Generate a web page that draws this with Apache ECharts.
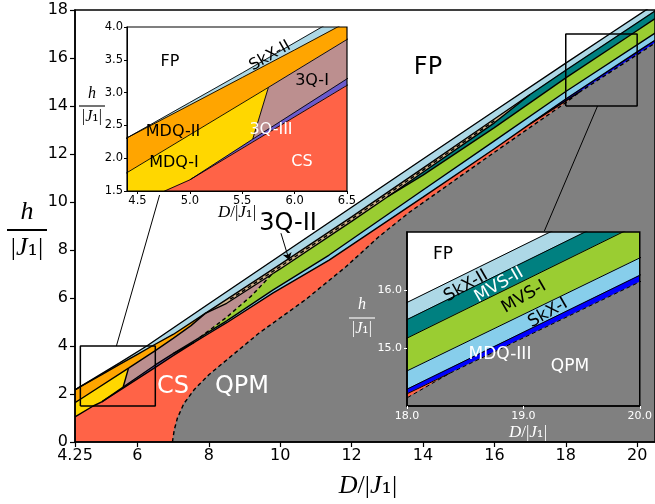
<!DOCTYPE html>
<html><head><meta charset="utf-8">
<script src="https://cdn.jsdelivr.net/npm/echarts@6/dist/echarts.min.js"></script>
<style>html,body{margin:0;padding:0;background:#fff}#c{width:655px;height:504px}</style>
</head><body><div id="c"></div>
<script>
// ---------- tick values ----------
const mainXTicks = [4.25, 6, 8, 10, 12, 14, 16, 18, 20];
const inset1XTicks = [4.5, 5.0, 5.5, 6.0, 6.5];
const inset2YTicks = [15, 16];

// ---------- phase boundaries [D/|J1|, h/|J1|] ----------
const bFP = [[4.25,2.17],[4.4,2.31],[5.0,2.85],[5.5,3.30],[6.26,4.00],[7.0,4.75],[8.0,5.76],[10.0,7.77],[12.0,9.78],[14.0,11.79],[16.0,13.79],[18.0,15.785],[19.23,17.0],[20.5,18.25]];
const bSkX2a = [[4.25,2.17],[4.4,2.31],[5.0,2.81],[5.5,3.23],[6.0,3.65],[6.41,4.0],[7.0,4.48],[7.9,5.36]];
const bSkX2b = [[7.9,5.36],[8.5,5.94],[10.0,7.40],[12.0,9.38],[14.0,11.41],[16.0,13.46],[17.0,14.48]];
const bSkX2c = [[17.0,14.48],[18.0,15.49],[19.53,17.0],[20.5,17.96]];
const bMDQ2a = [[4.25,1.64],[4.4,1.78],[5.75,3.08]];
const bMDQ2b = [[5.75,3.08],[6.5,3.81],[7.0,4.32],[7.5,4.85],[7.9,5.36]];
const bYel3Q = [[5.6,2.29],[5.75,3.08]];
const b3Q3a = [[5.0,1.67],[5.6,2.29]];
const b3Q3b = [[5.6,2.29],[6.5,3.21],[7.0,3.68]];
const b3Q3c = [[7.0,3.68],[7.6,4.16]];
const bCSa = [[4.25,1.05],[4.76,1.5],[5.0,1.67]];
const bCSb = [[5.0,1.67],[6.5,3.11],[7.0,3.6],[7.6,4.16]];
const bCSc = [[7.6,4.16],[8.0,4.52],[8.5,4.97],[9.79,6.2],[11.37,7.58],[14.0,10.2],[16.0,12.22],[17.0,13.255]];
const bCSd = [[17.0,13.255],[18.0,14.29],[20.0,16.254],[20.5,16.74]];
const bSkX1top = [[7.0,3.68],[7.75,4.36]];
const b3Q1MVS = [[7.75,4.36],[8.5,5.2],[9.2,6.1],[9.8,7.04]];
const b3Q2a = [[7.9,5.36],[8.5,5.78],[9.8,7.02]];
const b3Q2b = [[9.8,7.02],[10.0,7.21],[12.0,9.19],[13.0,10.21]];
const b3Q2c = [[13.0,10.21],[14.0,11.24],[16.0,13.30],[17.0,14.48]];
const bTanDash = [[8.6,5.95],[10.0,7.31],[12.0,9.29],[14.0,11.33],[16.0,13.38]];
const bMVS2 = [[13.0,10.21],[14.0,11.12],[16.0,13.1],[18.0,15.17],[19.855,17.0],[20.5,17.64]];
const bMVS1 = [[7.75,4.36],[8.5,5.05],[9.79,6.33],[11.37,7.79],[14.0,10.5],[16.0,12.55],[18.0,14.605],[20.5,17.04]];
const bMDQ3a = [[17.0,13.255],[18.0,14.21],[18.37,14.567]];
const bMDQ3b = [[18.37,14.567],[20.0,16.14],[20.5,16.62]];
const bQPM = [[6.98,0],[7.03,0.5],[7.12,1.0],[7.3,1.6],[7.6,2.2],[8.0,2.8],[8.5,3.42],[9.4,4.53],[10.7,5.92],[11.84,7.3],[12.76,8.55],[13.6,9.55],[15.56,11.61],[16.49,12.58],[18.0,14.14],[18.37,14.567]];

// inset boxes and connectors
const box1 = [[4.4,1.5],[6.5,1.5],[6.5,4.0],[4.4,4.0],[4.4,1.5]];
const box2 = [[18,14],[20,14],[20,17],[18,17],[18,14]];
const conn1 = [[5.41,4.0],[6.62,10.29]];
const conn2 = [[18.89,14.0],[17.40,8.79]];
const arrow3Q2 = [[10.02,8.70],[10.25,7.58]];

// ---------- regions ----------
const rev = a => a.slice().reverse();
const cat = (...arrs) => [].concat(...arrs);
const regions = [
  {name:'FP', color:'#ffffff', poly: cat(bFP, [[20.5,30],[4.25,30]])},
  {name:'SkX-II', color:'#add8e6', poly: cat(bFP, rev(cat(bSkX2a,bSkX2b,bSkX2c)))},
  {name:'MDQ-II', color:'#ffa500', poly: cat(bSkX2a, rev(cat(bMDQ2a,bMDQ2b)))},
  {name:'MDQ-I', color:'#ffd700', poly: cat(bMDQ2a, rev(bYel3Q), rev(b3Q3a), rev(bCSa))},
  {name:'3Q-I', color:'#bc8f8f', poly: cat(bYel3Q, bMDQ2b, b3Q2a, rev(b3Q1MVS), rev(bSkX1top), rev(b3Q3b))},
  {name:'3Q-III', color:'#6a5acd', poly: cat(b3Q3a, b3Q3b, b3Q3c, rev(bCSb))},
  {name:'3Q-II', color:'#d2b48c', poly: cat(bSkX2b, rev(cat(b3Q2a,b3Q2b,b3Q2c)))},
  {name:'MVS-II', color:'#008080', poly: cat(b3Q2c, bSkX2c, rev(bMVS2))},
  {name:'MVS-I', color:'#9acd32', poly: cat(b3Q1MVS, b3Q2b, bMVS2, rev(bMVS1))},
  {name:'SkX-I', color:'#87ceeb', poly: cat(bSkX1top, bMVS1, rev(cat(bCSc,bCSd)), rev(b3Q3c))},
  {name:'MDQ-III', color:'#0000ff', poly: cat(bCSd, rev(cat(bMDQ3a,bMDQ3b)))},
  {name:'CS', color:'#ff6347', poly: cat([[4.25,0]], bCSa, bCSb, bCSc, bMDQ3a, rev(bQPM))},
  {name:'QPM', color:'#808080', poly: cat(bQPM, bMDQ3b, [[20.5,0]])}
];
const solidLines = [bFP,bSkX2a,bSkX2b,bSkX2c,bMDQ2a,bMDQ2b,bYel3Q,b3Q3a,b3Q3b,b3Q3c,bCSa,bCSb,bCSc,bCSd,bSkX1top,b3Q2a,b3Q2b,b3Q2c,bMVS2,bMVS1,bMDQ3a];
const dashedLines = [bQPM, b3Q1MVS, bMDQ3b, bTanDash];

function polySeries(r, gi, z){
  return {type:'custom', name:r.name, coordinateSystem:'cartesian2d', xAxisIndex:gi, yAxisIndex:gi,
    clip:true, z:z, silent:true, animation:false, data:[r.poly[0]],
    renderItem:(params, api) => ({type:'polygon', shape:{points:r.poly.map(p => api.coord(p))},
      style:{fill:r.color, stroke:r.color, lineWidth:0.6}})};
}
function lineSeries(pts, gi, w, dashed, z, color){
  return {type:'line', xAxisIndex:gi, yAxisIndex:gi, data:pts, showSymbol:false, symbol:'none',
    clip:true, silent:true, animation:false, z:z,
    lineStyle:{color:color||'#000', width:w, type: dashed ? [4,3] : 'solid'}};
}
const series = [];
[[0,1,2,1.4],[1,6,6.5,0.9],[2,6,6.5,1.0]].forEach(([gi,zp,zl,w]) => {
  regions.forEach(r => series.push(polySeries(r, gi, zp)));
  solidLines.forEach(l => series.push(lineSeries(l, gi, w, false, zl)));
  dashedLines.forEach(l => series.push(lineSeries(l, gi, w, true, zl)));
});
series.push(lineSeries(box1, 0, 1.5, false, 2.5));
series.push(lineSeries(box2, 0, 1.5, false, 2.5));
series.push(lineSeries(conn1, 0, 1.0, false, 2.5));
series.push(lineSeries(conn2, 0, 1.0, false, 2.5));
series.push({type:'lines', coordinateSystem:'cartesian2d', xAxisIndex:0, yAxisIndex:0, z:3, silent:true, animation:false,
  symbol:['none','arrow'], symbolSize:7, lineStyle:{color:'#000', width:1, opacity:1},
  data:[{coords: arrow3Q2}]});

// ---------- axes ----------
const F = 'DejaVu Sans';
function fmt1(v){ return Number(v).toFixed(1); }
const xAxis = [
  {type:'value', gridIndex:0, min:4.25, max:20.5, z:3,
   axisLine:{show:true, onZero:false, lineStyle:{color:'#000', width:1.5}},
   axisTick:{show:true, length:5, customValues:mainXTicks, lineStyle:{color:'#000', width:1.2}},
   axisLabel:{customValues:mainXTicks, fontSize:16, color:'#000', fontFamily:F, margin:6},
   splitLine:{show:false}},
  {type:'value', gridIndex:1, min:4.4, max:6.5, z:7,
   axisLine:{show:true, onZero:false, lineStyle:{color:'#000', width:1}},
   axisTick:{show:true, length:3, customValues:inset1XTicks, lineStyle:{color:'#000'}},
   axisLabel:{customValues:inset1XTicks, formatter:fmt1, fontSize:11.5, color:'#000', fontFamily:F, margin:4},
   splitLine:{show:false}},
  {type:'value', gridIndex:2, min:18, max:20, interval:1, z:7,
   axisLine:{show:true, onZero:false, lineStyle:{color:'#000', width:1.5}},
   axisTick:{show:true, length:3, lineStyle:{color:'#fff'}},
   axisLabel:{formatter:fmt1, fontSize:11, color:'#fff', fontFamily:F, margin:5},
   splitLine:{show:false}}
];
const yAxis = [
  {type:'value', gridIndex:0, min:0, max:18, interval:2, z:3,
   axisLine:{show:true, onZero:false, lineStyle:{color:'#000', width:1.5}},
   axisTick:{show:true, length:5, lineStyle:{color:'#000', width:1.2}},
   axisLabel:{fontSize:16, color:'#000', fontFamily:F, margin:7},
   splitLine:{show:false}},
  {type:'value', gridIndex:1, min:1.5, max:4.0, interval:0.5, z:7,
   axisLine:{show:true, onZero:false, lineStyle:{color:'#000', width:1}},
   axisTick:{show:true, length:3, lineStyle:{color:'#000'}},
   axisLabel:{formatter:fmt1, fontSize:11.5, color:'#000', fontFamily:F, margin:4},
   splitLine:{show:false}},
  {type:'value', gridIndex:2, min:14, max:17, z:7,
   axisLine:{show:true, onZero:false, lineStyle:{color:'#000', width:1.5}},
   axisTick:{show:true, length:3, customValues:inset2YTicks, lineStyle:{color:'#fff'}},
   axisLabel:{customValues:inset2YTicks, formatter:fmt1, fontSize:11, color:'#fff', fontFamily:F, margin:5},
   splitLine:{show:false}}
];

// ---------- text ----------
function txt(t, x, y, size, color, rotDeg){
  return {type:'text', x:x, y:y, z:30, rotation:(rotDeg||0)*Math.PI/180,
    style:{text:t, fill:color, font: size + 'px "DejaVu Sans"', align:'center', verticalAlign:'middle',
      textAlign:'center', textVerticalAlign:'middle'}};
}
function mathDJ(x, y, size, color){
  const base = {fontFamily:'Liberation Serif', fontSize:size, fill:color, color:color};
  return {type:'text', x:x, y:y, z:30,
    style:{text:'{i|D}{n|/|}{i|J}{s|₁}{n||}', align:'center', verticalAlign:'middle', textAlign:'center', textVerticalAlign:'middle',
      rich:{i:Object.assign({fontStyle:'italic'}, base), n:base, s:Object.assign({}, base, {fontFamily:'DejaVu Serif'})}}};
}
function fracH(cx, yh, ybar, yden, half, size, color, bw){
  const base = {fontFamily:'Liberation Serif', fontSize:size, fill:color, color:color};
  return [
    {type:'text', x:cx, y:yh, z:30, style:{text:'h', fill:color, font:'italic ' + size + 'px "Liberation Serif"', align:'center', verticalAlign:'middle', textAlign:'center', textVerticalAlign:'middle'}},
    {type:'line', z:30, shape:{x1:cx-half, y1:ybar, x2:cx+half, y2:ybar}, style:{stroke:color, lineWidth:bw}},
    {type:'text', x:cx, y:yden, z:30, style:{text:'{n||}{i|J}{s|₁}{n||}', align:'center', verticalAlign:'middle', textAlign:'center', textVerticalAlign:'middle',
      rich:{i:Object.assign({fontStyle:'italic'}, base), n:base, s:Object.assign({}, base, {fontFamily:'DejaVu Serif'})}}}
  ];
}
const graphic = [
  txt('FP', 428, 68, 24, '#000'),
  txt('CS', 173, 387, 24, '#fff'),
  txt('QPM', 242, 387, 24, '#fff'),
  txt('3Q-II', 288, 224, 24, '#000'),
  txt('FP', 170, 62, 16, '#000'),
  txt('SkX-II', 270, 56, 16, '#000', 30),
  txt('3Q-I', 312, 81, 16, '#000'),
  txt('MDQ-II', 173, 132, 16, '#000'),
  txt('3Q-III', 271, 130, 16, '#fff'),
  txt('MDQ-I', 174, 163, 16, '#000'),
  txt('CS', 302, 162, 16, '#fff'),
  txt('FP', 443, 255, 17, '#000'),
  txt('SkX-II', 466, 286, 17, '#000', 30),
  txt('MVS-II', 499, 285, 17, '#fff', 30),
  txt('MVS-I', 524, 297, 17, '#000', 30),
  txt('SkX-I', 548, 313, 17, '#000', 30),
  txt('MDQ-III', 500, 355, 17, '#fff'),
  txt('QPM', 570, 367, 17, '#fff'),
  mathDJ(368, 486, 26, '#000'),
  mathDJ(237, 213, 17, '#000'),
  mathDJ(528, 433, 17, '#fff')
].concat(fracH(27, 212, 230, 248, 20, 26, '#000', 1.8))
 .concat(fracH(92, 94, 106, 117, 13, 16, '#000', 1.1))
 .concat(fracH(362, 305, 318, 329, 13, 16, '#fff', 1.1));

const chart = echarts.init(document.getElementById('c'), null, {renderer:'canvas'});
chart.setOption({
  animation:false,
  backgroundColor:'#fff',
  grid:[
    {left:75, top:10, width:582, height:432, show:true, borderColor:'#000', borderWidth:1.5, backgroundColor:'transparent', z:3},
    {left:127, top:27, width:220, height:164, show:true, borderColor:'#000', borderWidth:1.2, backgroundColor:'transparent', z:7},
    {left:407, top:232, width:235, height:174, show:true, borderColor:'#000', borderWidth:1.5, backgroundColor:'transparent', z:7}
  ],
  xAxis:xAxis, yAxis:yAxis, series:series, graphic:graphic
});
</script></body></html>
